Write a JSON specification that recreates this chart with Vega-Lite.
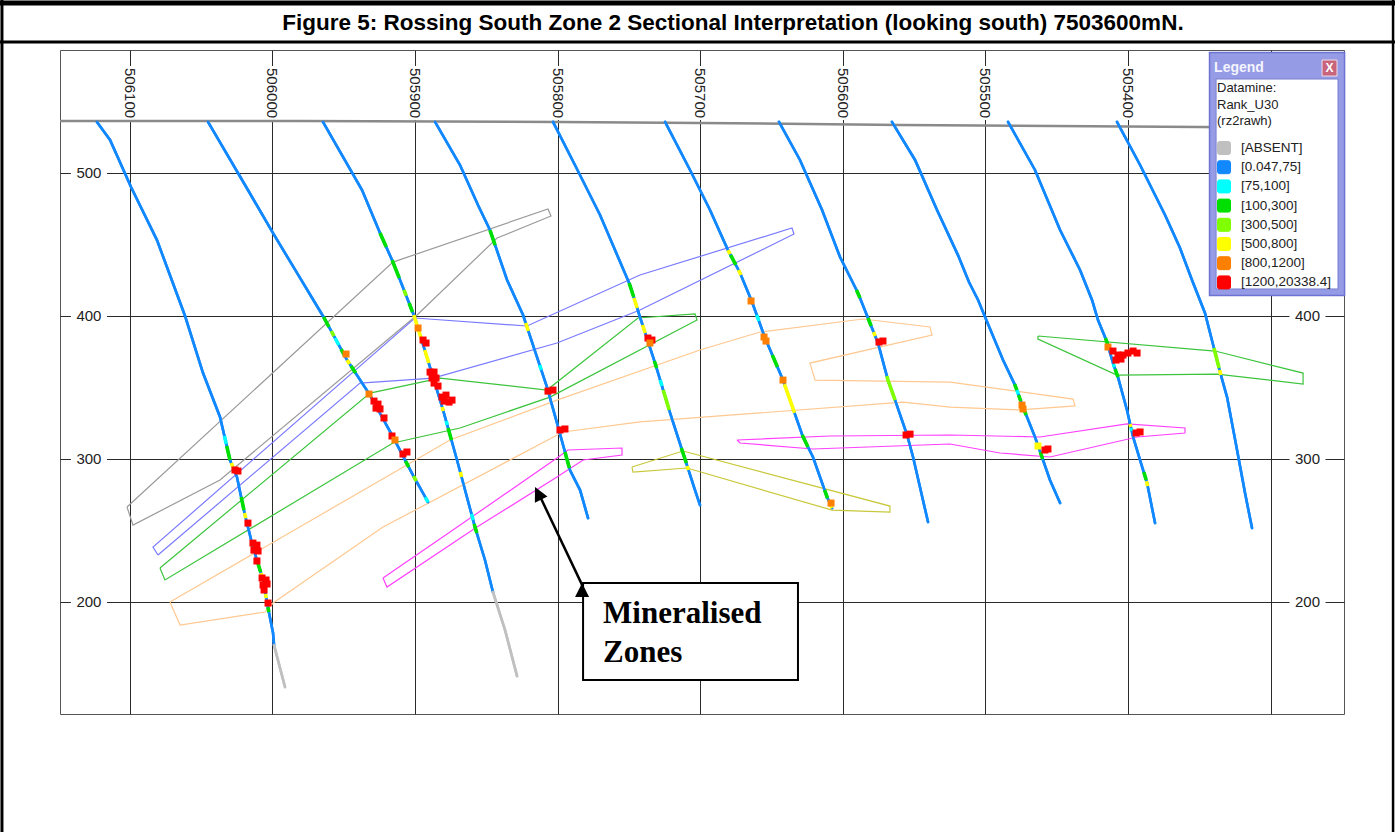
{
"$schema":"https://vega.github.io/schema/vega-lite/v6.json",
"width":1284,"height":664,
"autosize":{"type":"none"},
"padding":{"left":60,"top":50,"right":51,"bottom":118},
"background":"white",
"config":{"view":{"stroke":"#555","strokeWidth":1},
"axis":{"grid":true,"gridColor":"#2a2a2a","gridOpacity":1,"gridWidth":1,"labels":false,"ticks":false,"domain":false,"title":null}},
"datasets":{
"xlab":[{"e":506100,"z":555.9,"t":"506100"},{"e":506000,"z":555.9,"t":"506000"},{"e":505900,"z":555.9,"t":"505900"},{"e":505800,"z":555.9,"t":"505800"},{"e":505700,"z":555.9,"t":"505700"},{"e":505600,"z":555.9,"t":"505600"},{"e":505500,"z":555.9,"t":"505500"},{"e":505400,"z":555.9,"t":"505400"}],
"ylab":[{"e":506128.7,"z":500,"t":"500"},{"e":506128.7,"z":400,"t":"400"},{"e":506128.7,"z":300,"t":"300"},{"e":506128.7,"z":200,"t":"200"},{"e":505274.2,"z":400,"t":"400"},{"e":505274.2,"z":300,"t":"300"},{"e":505274.2,"z":200,"t":"200"}],
"topo":[{"e":506149,"z":536.4,"s":1},{"e":505980.7,"z":536.4,"s":2},{"e":505798.4,"z":535.7,"s":3},{"e":505700.2,"z":535.0,"s":4},{"e":505559.9,"z":533.6,"s":5},{"e":505349.6,"z":532.2,"s":6},{"e":505248.6,"z":531.5,"s":7}],
"zones":[
{"zone":"Z1","e":506102.0,"z":266.4,"s":1},{"zone":"Z1","e":505915.5,"z":437.7,"s":2},{"zone":"Z1","e":505806.8,"z":474.8,"s":3},{"zone":"Z1","e":505804.7,"z":469.9,"s":4},{"zone":"Z1","e":505842.5,"z":454.5,"s":5},{"zone":"Z1","e":505898.6,"z":400.7,"s":6},{"zone":"Z1","e":506036.8,"z":285.3,"s":7},{"zone":"Z1","e":506097.8,"z":253.8,"s":8},{"zone":"Z1","e":506102.0,"z":266.4,"s":9},
{"zone":"Z2","e":506080.3,"z":232.9,"s":1},{"zone":"Z2","e":505938.6,"z":353.1,"s":2},{"zone":"Z2","e":505887.4,"z":356.6,"s":3},{"zone":"Z2","e":505800.5,"z":381.1,"s":4},{"zone":"Z2","e":505742.3,"z":404.2,"s":5},{"zone":"Z2","e":505634.3,"z":457.3,"s":6},{"zone":"Z2","e":505635.7,"z":461.5,"s":7},{"zone":"Z2","e":505742.3,"z":428.7,"s":8},{"zone":"Z2","e":505821.5,"z":393.0,"s":9},{"zone":"Z2","e":505900.1,"z":398.6,"s":10},{"zone":"Z2","e":506083.8,"z":238.4,"s":11},{"zone":"Z2","e":506080.3,"z":232.9,"s":12},
{"zone":"Z3","e":506078.9,"z":223.8,"s":1},{"zone":"Z3","e":505931.6,"z":346.1,"s":2},{"zone":"Z3","e":505882.5,"z":356.6,"s":3},{"zone":"Z3","e":505807.5,"z":348.2,"s":4},{"zone":"Z3","e":505743.7,"z":398.6,"s":5},{"zone":"Z3","e":505703.7,"z":401.4,"s":6},{"zone":"Z3","e":505702.3,"z":397.2,"s":7},{"zone":"Z3","e":505805.4,"z":343.3,"s":8},{"zone":"Z3","e":505868.5,"z":321.7,"s":9},{"zone":"Z3","e":505915.5,"z":311.2,"s":10},{"zone":"Z3","e":506075.4,"z":215.4,"s":11},{"zone":"Z3","e":506078.9,"z":223.8,"s":12},
{"zone":"Z4","e":506071.9,"z":200.0,"s":1},{"zone":"Z4","e":505875.5,"z":313.3,"s":2},{"zone":"Z4","e":505800.5,"z":341.2,"s":3},{"zone":"Z4","e":505700.2,"z":376.2,"s":4},{"zone":"Z4","e":505658.1,"z":388.8,"s":5},{"zone":"Z4","e":505585.9,"z":397.9,"s":6},{"zone":"Z4","e":505538.9,"z":392.3,"s":7},{"zone":"Z4","e":505537.5,"z":386.7,"s":8},{"zone":"Z4","e":505623.1,"z":367.1,"s":9},{"zone":"Z4","e":505619.5,"z":355.2,"s":10},{"zone":"Z4","e":505524.9,"z":353.8,"s":11},{"zone":"Z4","e":505438.6,"z":341.9,"s":12},{"zone":"Z4","e":505437.2,"z":337.1,"s":13},{"zone":"Z4","e":505475.8,"z":334.3,"s":14},{"zone":"Z4","e":505524.9,"z":336.3,"s":15},{"zone":"Z4","e":505557.8,"z":339.8,"s":16},{"zone":"Z4","e":505677.1,"z":330.8,"s":17},{"zone":"Z4","e":505742.3,"z":325.9,"s":18},{"zone":"Z4","e":505796.3,"z":318.9,"s":19},{"zone":"Z4","e":505922.5,"z":252.4,"s":20},{"zone":"Z4","e":505999.6,"z":199.3,"s":21},{"zone":"Z4","e":506005.2,"z":193.0,"s":22},{"zone":"Z4","e":506064.8,"z":183.9,"s":23},{"zone":"Z4","e":506071.9,"z":200.0,"s":24},
{"zone":"Z5","e":505922.5,"z":216.8,"s":1},{"zone":"Z5","e":505875.5,"z":248.9,"s":2},{"zone":"Z5","e":505800.5,"z":300.7,"s":3},{"zone":"Z5","e":505792.8,"z":306.3,"s":4},{"zone":"Z5","e":505754.9,"z":307.7,"s":5},{"zone":"Z5","e":505754.9,"z":302.8,"s":6},{"zone":"Z5","e":505782.2,"z":299.3,"s":7},{"zone":"Z5","e":505800.5,"z":287.4,"s":8},{"zone":"Z5","e":505856.6,"z":252.4,"s":9},{"zone":"Z5","e":505919.7,"z":210.5,"s":10},{"zone":"Z5","e":505922.5,"z":216.8,"s":11},
{"zone":"Z6","e":505674.2,"z":313.3,"s":1},{"zone":"Z6","e":505609.0,"z":316.1,"s":2},{"zone":"Z6","e":505524.9,"z":316.8,"s":3},{"zone":"Z6","e":505461.8,"z":315.4,"s":4},{"zone":"Z6","e":505400.8,"z":324.5,"s":5},{"zone":"Z6","e":505360.1,"z":321.7,"s":6},{"zone":"Z6","e":505360.1,"z":318.2,"s":7},{"zone":"Z6","e":505393.7,"z":315.4,"s":8},{"zone":"Z6","e":505454.8,"z":301.4,"s":9},{"zone":"Z6","e":505489.8,"z":304.2,"s":10},{"zone":"Z6","e":505524.9,"z":310.5,"s":11},{"zone":"Z6","e":505621.0,"z":307.0,"s":12},{"zone":"Z6","e":505672.1,"z":311.2,"s":13},{"zone":"Z6","e":505674.2,"z":313.3,"s":14},
{"zone":"Z7","e":505747.9,"z":294.4,"s":1},{"zone":"Z7","e":505712.1,"z":305.6,"s":2},{"zone":"Z7","e":505567.0,"z":267.1,"s":3},{"zone":"Z7","e":505567.0,"z":262.9,"s":4},{"zone":"Z7","e":505607.6,"z":264.3,"s":5},{"zone":"Z7","e":505709.3,"z":293.7,"s":6},{"zone":"Z7","e":505747.2,"z":290.9,"s":7},{"zone":"Z7","e":505747.9,"z":294.4,"s":8},
{"zone":"Z8","e":505463.2,"z":386.0,"s":1},{"zone":"Z8","e":505339.0,"z":375.5,"s":2},{"zone":"Z8","e":505277.3,"z":360.1,"s":3},{"zone":"Z8","e":505277.3,"z":352.4,"s":4},{"zone":"Z8","e":505337.6,"z":359.4,"s":5},{"zone":"Z8","e":505407.8,"z":358.7,"s":6},{"zone":"Z8","e":505463.2,"z":383.9,"s":7},{"zone":"Z8","e":505463.2,"z":386.0,"s":8}
],
"holes":[
{"h":"H1","g":"[0.047,75]","e":506123.1,"z":535.7,"s":1},{"h":"H1","g":"[0.047,75]","e":506113.9,"z":523.1,"s":2},{"h":"H1","g":"[0.047,75]","e":506099.2,"z":490.2,"s":3},{"h":"H1","g":"[0.047,75]","e":506081.0,"z":453.1,"s":4},{"h":"H1","g":"[0.047,75]","e":506061.3,"z":400.0,"s":5},{"h":"H1","g":"[0.047,75]","e":506048.7,"z":360.1,"s":6},{"h":"H1","g":"[0.047,75]","e":506036.8,"z":329.4,"s":7},{"h":"H1","g":"[0.047,75]","e":506029.8,"z":299.3,"s":8},{"h":"H1","g":"[0.047,75]","e":506024.9,"z":287.4,"s":9},{"h":"H1","g":"[0.047,75]","e":506019.3,"z":260.8,"s":10},{"h":"H1","g":"[0.047,75]","e":506013.7,"z":238.4,"s":11},{"h":"H1","g":"[0.047,75]","e":506006.6,"z":215.4,"s":12},{"h":"H1","g":"[0.047,75]","e":506003.8,"z":199.3,"s":13},{"h":"H1","g":"[0.047,75]","e":505999.6,"z":178.3,"s":14},{"h":"H1","g":"[0.047,75]","e":505998.9,"z":169.9,"s":15},
{"h":"H1g","g":"[ABSENT]","e":505998.9,"z":169.9,"s":1},{"h":"H1g","g":"[ABSENT]","e":505994.7,"z":153.8,"s":2},{"h":"H1g","g":"[ABSENT]","e":505991.2,"z":140.5,"s":3},
{"h":"H2","g":"[0.047,75]","e":506045.2,"z":535.7,"s":1},{"h":"H2","g":"[0.047,75]","e":506017.2,"z":488.1,"s":2},{"h":"H2","g":"[0.047,75]","e":505999.6,"z":458.0,"s":3},{"h":"H2","g":"[0.047,75]","e":505982.8,"z":430.1,"s":4},{"h":"H2","g":"[0.047,75]","e":505964.6,"z":400.0,"s":5},{"h":"H2","g":"[0.047,75]","e":505947.7,"z":369.2,"s":6},{"h":"H2","g":"[0.047,75]","e":505931.6,"z":344.7,"s":7},{"h":"H2","g":"[0.047,75]","e":505915.5,"z":315.4,"s":8},{"h":"H2","g":"[0.047,75]","e":505901.5,"z":288.8,"s":9},{"h":"H2","g":"[0.047,75]","e":505890.9,"z":269.9,"s":10},
{"h":"H3","g":"[0.047,75]","e":505964.6,"z":535.7,"s":1},{"h":"H3","g":"[0.047,75]","e":505937.2,"z":488.1,"s":2},{"h":"H3","g":"[0.047,75]","e":505924.6,"z":458.0,"s":3},{"h":"H3","g":"[0.047,75]","e":505915.5,"z":437.7,"s":4},{"h":"H3","g":"[0.047,75]","e":505900.1,"z":398.6,"s":5},{"h":"H3","g":"[0.047,75]","e":505887.4,"z":357.3,"s":6},{"h":"H3","g":"[0.047,75]","e":505880.4,"z":334.3,"s":7},{"h":"H3","g":"[0.047,75]","e":505870.6,"z":299.3,"s":8},{"h":"H3","g":"[0.047,75]","e":505858.0,"z":252.4,"s":9},{"h":"H3","g":"[0.047,75]","e":505851.0,"z":229.4,"s":10},{"h":"H3","g":"[0.047,75]","e":505845.4,"z":207.0,"s":11},
{"h":"H3g","g":"[ABSENT]","e":505845.4,"z":207.0,"s":1},{"h":"H3g","g":"[ABSENT]","e":505836.9,"z":180.4,"s":2},{"h":"H3g","g":"[ABSENT]","e":505828.5,"z":148.2,"s":3},
{"h":"H4","g":"[0.047,75]","e":505886.0,"z":535.7,"s":1},{"h":"H4","g":"[0.047,75]","e":505868.5,"z":505.6,"s":2},{"h":"H4","g":"[0.047,75]","e":505855.9,"z":477.6,"s":3},{"h":"H4","g":"[0.047,75]","e":505847.5,"z":460.1,"s":4},{"h":"H4","g":"[0.047,75]","e":505835.5,"z":425.2,"s":5},{"h":"H4","g":"[0.047,75]","e":505824.3,"z":400.7,"s":6},{"h":"H4","g":"[0.047,75]","e":505814.5,"z":371.3,"s":7},{"h":"H4","g":"[0.047,75]","e":505807.5,"z":350.3,"s":8},{"h":"H4","g":"[0.047,75]","e":505800.5,"z":325.2,"s":9},{"h":"H4","g":"[0.047,75]","e":505791.4,"z":292.3,"s":10},{"h":"H4","g":"[0.047,75]","e":505784.3,"z":278.3,"s":11},{"h":"H4","g":"[0.047,75]","e":505778.7,"z":258.7,"s":12},
{"h":"H5","g":"[0.047,75]","e":505803.3,"z":535.7,"s":1},{"h":"H5","g":"[0.047,75]","e":505787.9,"z":505.6,"s":2},{"h":"H5","g":"[0.047,75]","e":505770.3,"z":470.6,"s":3},{"h":"H5","g":"[0.047,75]","e":505749.3,"z":421.7,"s":4},{"h":"H5","g":"[0.047,75]","e":505742.3,"z":399.3,"s":5},{"h":"H5","g":"[0.047,75]","e":505731.7,"z":367.1,"s":6},{"h":"H5","g":"[0.047,75]","e":505721.2,"z":332.2,"s":7},{"h":"H5","g":"[0.047,75]","e":505712.8,"z":306.3,"s":8},{"h":"H5","g":"[0.047,75]","e":505703.7,"z":278.3,"s":9},{"h":"H5","g":"[0.047,75]","e":505700.2,"z":267.8,"s":10},
{"h":"H6","g":"[0.047,75]","e":505724.7,"z":535.7,"s":1},{"h":"H6","g":"[0.047,75]","e":505707.2,"z":502.1,"s":2},{"h":"H6","g":"[0.047,75]","e":505693.2,"z":474.1,"s":3},{"h":"H6","g":"[0.047,75]","e":505680.6,"z":446.1,"s":4},{"h":"H6","g":"[0.047,75]","e":505672.1,"z":430.1,"s":5},{"h":"H6","g":"[0.047,75]","e":505663.7,"z":409.8,"s":6},{"h":"H6","g":"[0.047,75]","e":505654.6,"z":384.6,"s":7},{"h":"H6","g":"[0.047,75]","e":505642.0,"z":355.2,"s":8},{"h":"H6","g":"[0.047,75]","e":505628.0,"z":315.4,"s":9},{"h":"H6","g":"[0.047,75]","e":505621.0,"z":301.4,"s":10},{"h":"H6","g":"[0.047,75]","e":505611.1,"z":273.4,"s":11},{"h":"H6","g":"[0.047,75]","e":505607.6,"z":265.7,"s":12},
{"h":"H7","g":"[0.047,75]","e":505644.8,"z":535.7,"s":1},{"h":"H7","g":"[0.047,75]","e":505630.1,"z":509.1,"s":2},{"h":"H7","g":"[0.047,75]","e":505614.6,"z":474.1,"s":3},{"h":"H7","g":"[0.047,75]","e":505602.0,"z":441.2,"s":4},{"h":"H7","g":"[0.047,75]","e":505589.4,"z":416.1,"s":5},{"h":"H7","g":"[0.047,75]","e":505582.4,"z":398.6,"s":6},{"h":"H7","g":"[0.047,75]","e":505575.4,"z":381.1,"s":7},{"h":"H7","g":"[0.047,75]","e":505568.4,"z":355.2,"s":8},{"h":"H7","g":"[0.047,75]","e":505563.4,"z":341.2,"s":9},{"h":"H7","g":"[0.047,75]","e":505555.0,"z":316.8,"s":10},{"h":"H7","g":"[0.047,75]","e":505550.8,"z":301.4,"s":11},{"h":"H7","g":"[0.047,75]","e":505540.3,"z":255.9,"s":12},
{"h":"H8","g":"[0.047,75]","e":505565.6,"z":535.7,"s":1},{"h":"H8","g":"[0.047,75]","e":505549.4,"z":509.1,"s":2},{"h":"H8","g":"[0.047,75]","e":505534.0,"z":474.1,"s":3},{"h":"H8","g":"[0.047,75]","e":505519.3,"z":442.6,"s":4},{"h":"H8","g":"[0.047,75]","e":505511.6,"z":423.8,"s":5},{"h":"H8","g":"[0.047,75]","e":505505.2,"z":411.2,"s":6},{"h":"H8","g":"[0.047,75]","e":505500.3,"z":399.3,"s":7},{"h":"H8","g":"[0.047,75]","e":505487.7,"z":369.2,"s":8},{"h":"H8","g":"[0.047,75]","e":505479.3,"z":351.7,"s":9},{"h":"H8","g":"[0.047,75]","e":505473.7,"z":336.3,"s":10},{"h":"H8","g":"[0.047,75]","e":505465.3,"z":315.4,"s":11},{"h":"H8","g":"[0.047,75]","e":505460.4,"z":301.4,"s":12},{"h":"H8","g":"[0.047,75]","e":505454.8,"z":285.3,"s":13},{"h":"H8","g":"[0.047,75]","e":505447.7,"z":269.2,"s":14},
{"h":"H9","g":"[0.047,75]","e":505484.2,"z":535.7,"s":1},{"h":"H9","g":"[0.047,75]","e":505465.3,"z":502.1,"s":2},{"h":"H9","g":"[0.047,75]","e":505447.7,"z":460.1,"s":3},{"h":"H9","g":"[0.047,75]","e":505433.7,"z":432.2,"s":4},{"h":"H9","g":"[0.047,75]","e":505425.3,"z":411.2,"s":5},{"h":"H9","g":"[0.047,75]","e":505421.1,"z":397.2,"s":6},{"h":"H9","g":"[0.047,75]","e":505414.8,"z":381.8,"s":7},{"h":"H9","g":"[0.047,75]","e":505410.6,"z":367.1,"s":8},{"h":"H9","g":"[0.047,75]","e":505407.1,"z":357.3,"s":9},{"h":"H9","g":"[0.047,75]","e":505400.8,"z":334.3,"s":10},{"h":"H9","g":"[0.047,75]","e":505396.5,"z":315.4,"s":11},{"h":"H9","g":"[0.047,75]","e":505391.6,"z":299.3,"s":12},{"h":"H9","g":"[0.047,75]","e":505386.7,"z":283.2,"s":13},{"h":"H9","g":"[0.047,75]","e":505381.1,"z":255.2,"s":14},
{"h":"H10","g":"[0.047,75]","e":505407.8,"z":535.7,"s":1},{"h":"H10","g":"[0.047,75]","e":505391.6,"z":505.6,"s":2},{"h":"H10","g":"[0.047,75]","e":505374.1,"z":470.6,"s":3},{"h":"H10","g":"[0.047,75]","e":505363.6,"z":447.5,"s":4},{"h":"H10","g":"[0.047,75]","e":505355.2,"z":425.2,"s":5},{"h":"H10","g":"[0.047,75]","e":505346.1,"z":402.1,"s":6},{"h":"H10","g":"[0.047,75]","e":505339.1,"z":374.8,"s":7},{"h":"H10","g":"[0.047,75]","e":505335.5,"z":360.8,"s":8},{"h":"H10","g":"[0.047,75]","e":505330.6,"z":343.3,"s":9},{"h":"H10","g":"[0.047,75]","e":505323.6,"z":306.3,"s":10},{"h":"H10","g":"[0.047,75]","e":505318.0,"z":276.2,"s":11},{"h":"H10","g":"[0.047,75]","e":505313.1,"z":251.7,"s":12}
],
"intervals":[
{"i":1,"g":"[75,100]","e":506033.7,"z":316.1,"s":1},{"i":1,"g":"[75,100]","e":506032.4,"z":310.5,"s":2},
{"i":2,"g":"[100,300]","e":506032.1,"z":309.1,"s":1},{"i":2,"g":"[100,300]","e":506029.8,"z":299.3,"s":2},
{"i":3,"g":"[500,800]","e":506028.9,"z":297.2,"s":1},{"i":3,"g":"[500,800]","e":506027.8,"z":294.4,"s":2},
{"i":4,"g":"[100,300]","e":506021.95,"z":273.4,"s":1},{"i":4,"g":"[100,300]","e":506020.0,"z":264.3,"s":2},
{"i":5,"g":"[500,800]","e":506019.6,"z":262.2,"s":1},{"i":5,"g":"[500,800]","e":506018.7,"z":258.7,"s":2},
{"i":6,"g":"[100,300]","e":506010.3,"z":227.3,"s":1},{"i":6,"g":"[100,300]","e":506008.3,"z":221.0,"s":2},
{"i":7,"g":"[500,800]","e":506008.1,"z":220.3,"s":1},{"i":7,"g":"[500,800]","e":506007.2,"z":217.4,"s":2},
{"i":8,"g":"[500,800]","e":506004.9,"z":205.6,"s":1},{"i":8,"g":"[500,800]","e":506004.4,"z":202.8,"s":2},
{"i":9,"g":"[100,300]","e":506003.2,"z":196.5,"s":1},{"i":9,"g":"[100,300]","e":506002.5,"z":193.0,"s":2},
{"i":10,"g":"[100,300]","e":505964.2,"z":399.3,"s":1},{"i":10,"g":"[100,300]","e":505960.4,"z":392.3,"s":2},
{"i":11,"g":"[300,500]","e":505958.8,"z":389.5,"s":1},{"i":11,"g":"[300,500]","e":505956.9,"z":386.0,"s":2},
{"i":12,"g":"[75,100]","e":505956.1,"z":384.6,"s":1},{"i":12,"g":"[75,100]","e":505953.5,"z":379.7,"s":2},
{"i":13,"g":"[100,300]","e":505951.9,"z":376.9,"s":1},{"i":13,"g":"[100,300]","e":505949.6,"z":372.7,"s":2},
{"i":14,"g":"[500,800]","e":505947.7,"z":369.2,"s":1},{"i":14,"g":"[500,800]","e":505945.9,"z":366.4,"s":2},
{"i":15,"g":"[100,300]","e":505944.9,"z":365.0,"s":1},{"i":15,"g":"[100,300]","e":505941.7,"z":360.1,"s":2},
{"i":16,"g":"[100,300]","e":505906.7,"z":298.6,"s":1},{"i":16,"g":"[100,300]","e":505904.4,"z":294.4,"s":2},
{"i":17,"g":"[300,500]","e":505901.1,"z":288.1,"s":1},{"i":17,"g":"[300,500]","e":505899.1,"z":284.6,"s":2},
{"i":18,"g":"[75,100]","e":505892.9,"z":273.4,"s":1},{"i":18,"g":"[75,100]","e":505890.9,"z":269.9,"s":2},
{"i":19,"g":"[100,300]","e":505924.6,"z":458.0,"s":1},{"i":19,"g":"[100,300]","e":505920.2,"z":448.2,"s":2},
{"i":20,"g":"[100,300]","e":505916.1,"z":439.1,"s":1},{"i":20,"g":"[100,300]","e":505911.1,"z":426.6,"s":2},
{"i":21,"g":"[300,500]","e":505907.8,"z":418.2,"s":1},{"i":21,"g":"[300,500]","e":505906.2,"z":414.0,"s":2},
{"i":22,"g":"[100,300]","e":505904.2,"z":409.1,"s":1},{"i":22,"g":"[100,300]","e":505901.8,"z":402.8,"s":2},
{"i":23,"g":"[500,800]","e":505900.9,"z":400.7,"s":1},{"i":23,"g":"[500,800]","e":505895.4,"z":383.2,"s":2},
{"i":24,"g":"[500,800]","e":505893.2,"z":376.2,"s":1},{"i":24,"g":"[500,800]","e":505890.4,"z":367.1,"s":2},
{"i":25,"g":"[500,800]","e":505881.0,"z":336.3,"s":1},{"i":25,"g":"[500,800]","e":505880.2,"z":333.6,"s":2},
{"i":26,"g":"[75,100]","e":505878.2,"z":326.6,"s":1},{"i":26,"g":"[75,100]","e":505877.5,"z":323.8,"s":2},
{"i":27,"g":"[100,300]","e":505876.9,"z":321.7,"s":1},{"i":27,"g":"[100,300]","e":505874.5,"z":313.3,"s":2},
{"i":28,"g":"[500,800]","e":505868.3,"z":290.9,"s":1},{"i":28,"g":"[500,800]","e":505867.4,"z":287.4,"s":2},
{"i":29,"g":"[75,100]","e":505860.4,"z":261.5,"s":1},{"i":29,"g":"[75,100]","e":505859.3,"z":257.3,"s":2},
{"i":30,"g":"[100,300]","e":505858.6,"z":254.5,"s":1},{"i":30,"g":"[100,300]","e":505856.7,"z":248.2,"s":2},
{"i":31,"g":"[100,300]","e":505847.5,"z":460.1,"s":1},{"i":31,"g":"[100,300]","e":505843.9,"z":449.6,"s":2},
{"i":32,"g":"[500,800]","e":505822.4,"z":395.1,"s":1},{"i":32,"g":"[500,800]","e":505820.6,"z":389.5,"s":2},
{"i":33,"g":"[75,100]","e":505812.6,"z":365.7,"s":1},{"i":33,"g":"[75,100]","e":505811.5,"z":362.2,"s":2},
{"i":34,"g":"[100,300]","e":505794.9,"z":304.9,"s":1},{"i":34,"g":"[100,300]","e":505791.8,"z":293.7,"s":2},
{"i":35,"g":"[100,300]","e":505749.9,"z":423.1,"s":1},{"i":35,"g":"[100,300]","e":505746.7,"z":413.3,"s":2},
{"i":36,"g":"[500,800]","e":505746.5,"z":412.6,"s":1},{"i":36,"g":"[500,800]","e":505744.3,"z":405.6,"s":2},
{"i":37,"g":"[500,800]","e":505740.5,"z":393.7,"s":1},{"i":37,"g":"[500,800]","e":505738.6,"z":388.1,"s":2},
{"i":38,"g":"[100,300]","e":505732.2,"z":368.5,"s":1},{"i":38,"g":"[100,300]","e":505730.6,"z":363.6,"s":2},
{"i":39,"g":"[75,100]","e":505728.1,"z":355.2,"s":1},{"i":39,"g":"[75,100]","e":505726.9,"z":351.0,"s":2},
{"i":40,"g":"[300,500]","e":505726.0,"z":348.2,"s":1},{"i":40,"g":"[300,500]","e":505721.8,"z":334.3,"s":2},
{"i":41,"g":"[100,300]","e":505713.3,"z":307.7,"s":1},{"i":41,"g":"[100,300]","e":505709.8,"z":297.2,"s":2},
{"i":42,"g":"[500,800]","e":505709.2,"z":295.1,"s":1},{"i":42,"g":"[500,800]","e":505708.3,"z":292.3,"s":2},
{"i":43,"g":"[500,800]","e":505680.6,"z":446.1,"s":1},{"i":43,"g":"[500,800]","e":505679.1,"z":443.3,"s":2},
{"i":44,"g":"[100,300]","e":505678.7,"z":442.6,"s":1},{"i":44,"g":"[100,300]","e":505675.1,"z":435.7,"s":2},
{"i":45,"g":"[500,800]","e":505673.2,"z":432.2,"s":1},{"i":45,"g":"[500,800]","e":505671.5,"z":428.7,"s":2},
{"i":46,"g":"[75,100]","e":505660.4,"z":400.7,"s":1},{"i":46,"g":"[75,100]","e":505658.9,"z":396.5,"s":2},
{"i":47,"g":"[100,300]","e":505649.5,"z":372.7,"s":1},{"i":47,"g":"[100,300]","e":505645.9,"z":364.3,"s":2},
{"i":48,"g":"[500,800]","e":505641.0,"z":352.4,"s":1},{"i":48,"g":"[500,800]","e":505633.9,"z":332.2,"s":2},
{"i":49,"g":"[100,300]","e":505628.5,"z":316.8,"s":1},{"i":49,"g":"[100,300]","e":505624.5,"z":308.4,"s":2},
{"i":50,"g":"[100,300]","e":505612.8,"z":278.3,"s":1},{"i":50,"g":"[100,300]","e":505610.8,"z":272.7,"s":2},
{"i":51,"g":"[500,800]","e":505608.9,"z":268.5,"s":1},{"i":51,"g":"[500,800]","e":505607.6,"z":265.7,"s":2},
{"i":52,"g":"[100,300]","e":505590.5,"z":418.2,"s":1},{"i":52,"g":"[100,300]","e":505588.0,"z":412.6,"s":2},
{"i":53,"g":"[100,300]","e":505582.4,"z":398.6,"s":1},{"i":53,"g":"[100,300]","e":505580.2,"z":393.0,"s":2},
{"i":54,"g":"[500,800]","e":505578.5,"z":388.8,"s":1},{"i":54,"g":"[500,800]","e":505577.4,"z":386.0,"s":2},
{"i":55,"g":"[300,500]","e":505569.2,"z":358.0,"s":1},{"i":55,"g":"[300,500]","e":505568.4,"z":355.2,"s":2},{"i":55,"g":"[300,500]","e":505563.4,"z":341.2,"s":3},
{"i":56,"g":"[100,300]","e":505479.6,"z":352.4,"s":1},{"i":56,"g":"[100,300]","e":505478.0,"z":348.2,"s":2},
{"i":57,"g":"[75,100]","e":505478.0,"z":348.2,"s":1},{"i":57,"g":"[75,100]","e":505477.0,"z":345.4,"s":2},
{"i":58,"g":"[100,300]","e":505476.8,"z":344.7,"s":1},{"i":58,"g":"[100,300]","e":505475.2,"z":340.5,"s":2},
{"i":59,"g":"[100,300]","e":505472.9,"z":334.3,"s":1},{"i":59,"g":"[100,300]","e":505471.5,"z":330.8,"s":2},
{"i":60,"g":"[100,300]","e":505461.6,"z":304.9,"s":1},{"i":60,"g":"[100,300]","e":505459.9,"z":300.0,"s":2},
{"i":61,"g":"[100,300]","e":505415.9,"z":384.6,"s":1},{"i":61,"g":"[100,300]","e":505414.4,"z":380.4,"s":2},
{"i":62,"g":"[75,100]","e":505410.35,"z":366.4,"s":1},{"i":62,"g":"[75,100]","e":505409.6,"z":364.3,"s":2},
{"i":63,"g":"[100,300]","e":505409.1,"z":362.9,"s":1},{"i":63,"g":"[100,300]","e":505407.1,"z":357.3,"s":2},
{"i":64,"g":"[500,800]","e":505398.6,"z":324.5,"s":1},{"i":64,"g":"[500,800]","e":505398.1,"z":322.4,"s":2},
{"i":65,"g":"[75,100]","e":505397.9,"z":321.7,"s":1},{"i":65,"g":"[75,100]","e":505397.5,"z":319.6,"s":2},
{"i":66,"g":"[100,300]","e":505389.0,"z":290.9,"s":1},{"i":66,"g":"[100,300]","e":505387.3,"z":285.3,"s":2},
{"i":67,"g":"[500,800]","e":505387.1,"z":284.6,"s":1},{"i":67,"g":"[500,800]","e":505386.3,"z":281.1,"s":2},
{"i":68,"g":"[300,500]","e":505339.8,"z":377.6,"s":1},{"i":68,"g":"[300,500]","e":505336.2,"z":363.6,"s":2},
{"i":69,"g":"[500,800]","e":505335.9,"z":362.2,"s":1},{"i":69,"g":"[500,800]","e":505334.9,"z":358.7,"s":2}
],
"blobs":[
{"g":"[1200,20338.4]","e":506026.3,"z":292.3},{"g":"[1200,20338.4]","e":506024.2,"z":291.6},{"g":"[1200,20338.4]","e":506017.2,"z":255.2},{"g":"[1200,20338.4]","e":506013.7,"z":241.2},{"g":"[1200,20338.4]","e":506010.9,"z":239.8},{"g":"[1200,20338.4]","e":506013.0,"z":236.3},{"g":"[1200,20338.4]","e":506010.1,"z":235.7},{"g":"[1200,20338.4]","e":506010.9,"z":228.7},{"g":"[1200,20338.4]","e":506007.3,"z":216.8},{"g":"[1200,20338.4]","e":506004.5,"z":215.4},{"g":"[1200,20338.4]","e":506006.6,"z":211.9},{"g":"[1200,20338.4]","e":506003.8,"z":212.6},{"g":"[1200,20338.4]","e":506005.9,"z":208.4},{"g":"[1200,20338.4]","e":506003.1,"z":199.3},
{"g":"[800,1200]","e":505948.4,"z":373.4},{"g":"[800,1200]","e":505932.3,"z":345.4},{"g":"[1200,20338.4]","e":505928.8,"z":340.5},{"g":"[1200,20338.4]","e":505926.0,"z":338.4},{"g":"[1200,20338.4]","e":505927.4,"z":335.6},{"g":"[1200,20338.4]","e":505924.6,"z":335.0},{"g":"[1200,20338.4]","e":505921.8,"z":328.7},{"g":"[1200,20338.4]","e":505916.2,"z":316.1},{"g":"[800,1200]","e":505914.1,"z":313.3},{"g":"[1200,20338.4]","e":505908.5,"z":303.5},{"g":"[1200,20338.4]","e":505905.7,"z":304.9},
{"g":"[800,1200]","e":505897.9,"z":391.6},{"g":"[1200,20338.4]","e":505894.4,"z":383.2},{"g":"[1200,20338.4]","e":505892.3,"z":381.1},{"g":"[1200,20338.4]","e":505889.5,"z":360.8},{"g":"[1200,20338.4]","e":505886.7,"z":360.8},{"g":"[1200,20338.4]","e":505888.1,"z":356.6},{"g":"[1200,20338.4]","e":505885.3,"z":356.6},{"g":"[1200,20338.4]","e":505886.7,"z":353.1},{"g":"[1200,20338.4]","e":505883.9,"z":351.0},{"g":"[1200,20338.4]","e":505881.1,"z":343.3},{"g":"[1200,20338.4]","e":505878.3,"z":344.7},{"g":"[1200,20338.4]","e":505879.7,"z":340.5},{"g":"[1200,20338.4]","e":505876.2,"z":339.8},{"g":"[1200,20338.4]","e":505874.1,"z":341.2},
{"g":"[1200,20338.4]","e":505806.8,"z":347.5},{"g":"[1200,20338.4]","e":505803.3,"z":348.2},{"g":"[1200,20338.4]","e":505798.4,"z":320.3},{"g":"[1200,20338.4]","e":505794.9,"z":321.0},
{"g":"[1200,20338.4]","e":505736.7,"z":384.6},{"g":"[1200,20338.4]","e":505733.9,"z":383.2},{"g":"[800,1200]","e":505735.3,"z":381.1},
{"g":"[800,1200]","e":505664.4,"z":410.5},{"g":"[800,1200]","e":505655.3,"z":385.3},{"g":"[800,1200]","e":505653.9,"z":382.5},{"g":"[800,1200]","e":505642.0,"z":355.2},{"g":"[800,1200]","e":505608.3,"z":269.2},
{"g":"[1200,20338.4]","e":505574.7,"z":381.8},{"g":"[1200,20338.4]","e":505571.9,"z":382.5},{"g":"[1200,20338.4]","e":505555.7,"z":316.8},{"g":"[1200,20338.4]","e":505552.9,"z":317.4},
{"g":"[800,1200]","e":505474.4,"z":337.7},{"g":"[800,1200]","e":505473.7,"z":335.0},{"g":"[500,800]","e":505463.2,"z":309.1},{"g":"[1200,20338.4]","e":505458.3,"z":306.3},{"g":"[1200,20338.4]","e":505456.2,"z":307.0},
{"g":"[800,1200]","e":505414.1,"z":378.3},{"g":"[1200,20338.4]","e":505410.6,"z":375.5},{"g":"[1200,20338.4]","e":505407.1,"z":372.7},{"g":"[1200,20338.4]","e":505403.6,"z":372.7},{"g":"[1200,20338.4]","e":505400.1,"z":374.1},{"g":"[1200,20338.4]","e":505396.5,"z":375.5},{"g":"[1200,20338.4]","e":505393.7,"z":374.1},{"g":"[1200,20338.4]","e":505408.5,"z":369.2},{"g":"[1200,20338.4]","e":505405.0,"z":369.9},{"g":"[1200,20338.4]","e":505394.4,"z":318.2},{"g":"[1200,20338.4]","e":505391.6,"z":318.9}
]
},
"layer":[
{"data":{"name":"holes"},"mark":{"type":"line","strokeWidth":2.6,"strokeCap":"round"},"encoding":{
"x":{"field":"e","type":"quantitative","scale":{"domain":[505248.6,506149],"reverse":true,"nice":false,"zero":false},"axis":{"values":[506100,506000,505900,505800,505700,505600,505500,505400,505300],"title":null}},
"y":{"field":"z","type":"quantitative","scale":{"domain":[121.7,586],"nice":false,"zero":false},"axis":{"values":[200,300,400,500],"title":null}},
"detail":{"field":"h"},"order":{"field":"s"},
"color":{"field":"g","type":"nominal","scale":{"domain":["[ABSENT]","[0.047,75]","[75,100]","[100,300]","[300,500]","[500,800]","[800,1200]","[1200,20338.4]"],"range":["#c0c0c0","#1288ff","#00ffff","#00e000","#80ff00","#ffff00","#ff8000","#ff0000"]},
"legend":{"orient":"none","legendX":1157,"legendY":32,"title":["Datamine:","Rank_U30","(rz2rawh)"],"titleFont":"Liberation Sans","titleFontSize":13,"titleFontWeight":"normal","titleColor":"#222","titleLineHeight":16.5,"titlePadding":13,"symbolType":"M-0.7,-1H0.7A0.3,0.3 0 0 1 1,-0.7V0.7A0.3,0.3 0 0 1 0.7,1H-0.7A0.3,0.3 0 0 1 -1,0.7V-0.7A0.3,0.3 0 0 1 -0.7,-1Z","symbolSize":169,"symbolStrokeColor":"#333","symbolStrokeWidth":1,"symbolOpacity":1,"labelFont":"Liberation Sans","labelFontSize":13.5,"labelColor":"#222","labelOffset":10,"rowPadding":1.2,"padding":0,
"encode":{"symbols":{"update":{"fill":{"scale":"color","field":"value"},"stroke":{"value":"#333"},"strokeWidth":{"value":1},"opacity":{"value":1}}}}}}}},
{"data":{"name":"xlab"},"mark":{"type":"point","shape":"M-0.3,-1H0.3V1H-0.3Z","size":2916,"filled":true,"fill":"white","strokeWidth":0,"opacity":1},"encoding":{"x":{"field":"e","type":"quantitative"},"y":{"field":"z","type":"quantitative"}}},
{"data":{"name":"ylab"},"mark":{"type":"point","shape":"M-1,-0.4H1V0.4H-1Z","size":1296,"filled":true,"fill":"white","strokeWidth":0,"opacity":1},"encoding":{"x":{"field":"e","type":"quantitative"},"y":{"field":"z","type":"quantitative"}}},
{"data":{"name":"xlab"},"mark":{"type":"text","angle":90,"align":"center","baseline":"middle","font":"Liberation Sans","fontSize":15,"color":"#222"},"encoding":{"x":{"field":"e","type":"quantitative"},"y":{"field":"z","type":"quantitative"},"text":{"field":"t"}}},
{"data":{"name":"ylab"},"mark":{"type":"text","align":"center","baseline":"middle","font":"Liberation Sans","fontSize":15,"color":"#222"},"encoding":{"x":{"field":"e","type":"quantitative"},"y":{"field":"z","type":"quantitative"},"text":{"field":"t"}}},
{"data":{"name":"topo"},"mark":{"type":"line","color":"#8a8a8a","strokeWidth":2.5},"encoding":{"x":{"field":"e","type":"quantitative"},"y":{"field":"z","type":"quantitative"},"order":{"field":"s"}}},
{"data":{"name":"zones"},"mark":{"type":"line","strokeWidth":1.2},"encoding":{"x":{"field":"e","type":"quantitative"},"y":{"field":"z","type":"quantitative"},"detail":{"field":"zone"},"order":{"field":"s"},"stroke":{"field":"zone","type":"nominal","scale":{"domain":["Z1","Z2","Z3","Z4","Z5","Z6","Z7","Z8"],"range":["#9a9a9a","#7a7aff","#3cc43c","#ffc890","#ff40ff","#ff40ff","#c8c83a","#3cc43c"]},"legend":null}}},
{"data":{"name":"holes"},"mark":{"type":"line","strokeWidth":2.6,"strokeCap":"round"},"encoding":{"x":{"field":"e","type":"quantitative"},"y":{"field":"z","type":"quantitative"},"detail":{"field":"h"},"order":{"field":"s"},"color":{"field":"g","type":"nominal"}}},
{"data":{"name":"intervals"},"mark":{"type":"line","strokeWidth":3.6,"strokeCap":"butt"},"encoding":{"x":{"field":"e","type":"quantitative"},"y":{"field":"z","type":"quantitative"},"detail":{"field":"i"},"order":{"field":"s"},"color":{"field":"g","type":"nominal"}}},
{"data":{"name":"blobs"},"mark":{"type":"point","shape":"square","filled":true,"size":49,"opacity":1,"strokeWidth":0},"encoding":{"x":{"field":"e","type":"quantitative"},"y":{"field":"z","type":"quantitative"},"color":{"field":"g","type":"nominal"}}},
{"data":{"values":[{"e":505782.9,"z":212.0,"e2":505814.5,"z2":278.3}]},"mark":{"type":"rule","color":"black","strokeWidth":2.5},"encoding":{"x":{"field":"e","type":"quantitative"},"y":{"field":"z","type":"quantitative"},"x2":{"field":"e2"},"y2":{"field":"z2"}}},
{"data":{"values":[{"e":505815.9,"z":280.4}]},"mark":{"type":"point","shape":"M0,0L0.7,1.4L-0.7,1.4Z","size":400,"filled":true,"color":"black","opacity":1,"strokeWidth":0,"angle":334},"encoding":{"x":{"field":"e","type":"quantitative"},"y":{"field":"z","type":"quantitative"}}},
{"data":{"values":[{"e":505782.2,"e2":505631.5,"z":213.3,"z2":145.4}]},"mark":{"type":"rect","fill":"white","stroke":"black","strokeWidth":2},"encoding":{"x":{"field":"e","type":"quantitative"},"x2":{"field":"e2"},"y":{"field":"z","type":"quantitative"},"y2":{"field":"z2"}}},
{"data":{"values":[{"e":505782.9,"z":213.3}]},"mark":{"type":"point","shape":"M0,0L0.7,1.4L-0.7,1.4Z","size":400,"filled":true,"color":"black","opacity":1,"strokeWidth":0},"encoding":{"x":{"field":"e","type":"quantitative"},"y":{"field":"z","type":"quantitative"}}},
{"data":{"values":[{"e":505768.2,"z":185.3,"t":["Mineralised","Zones"]}]},"mark":{"type":"text","align":"left","baseline":"alphabetic","font":"Liberation Serif","fontWeight":"bold","fontSize":31,"lineHeight":39,"color":"black"},"encoding":{"x":{"field":"e","type":"quantitative"},"y":{"field":"z","type":"quantitative"},"text":{"field":"t"}}},
{"data":{"values":[{"e":505342.9,"e2":505248.2,"z":584.3,"z2":414.3}]},"mark":{"type":"rect","fill":"#959be4","stroke":"#6d73d2","strokeWidth":1.5},"encoding":{"x":{"field":"e","type":"quantitative"},"x2":{"field":"e2"},"y":{"field":"z","type":"quantitative"},"y2":{"field":"z2"}}},
{"data":{"values":[{"e":505338.3,"e2":505252.8,"z":565.7,"z2":418.9}]},"mark":{"type":"rect","fill":"white","stroke":"#7a7fd0","strokeWidth":1},"encoding":{"x":{"field":"e","type":"quantitative"},"x2":{"field":"e2"},"y":{"field":"z","type":"quantitative"},"y2":{"field":"z2"}}},
{"data":{"values":[{"e":505339.7,"z":573.4,"t":"Legend"}]},"mark":{"type":"text","align":"left","baseline":"middle","font":"Liberation Sans","fontWeight":"bold","fontSize":14,"color":"#f4f4ff"},"encoding":{"x":{"field":"e","type":"quantitative"},"y":{"field":"z","type":"quantitative"},"text":{"field":"t"}}},
{"data":{"values":[{"e":505264.0,"e2":505253.5,"z":579.0,"z2":567.8}]},"mark":{"type":"rect","fill":"#c8647c","stroke":"#f0dce6","strokeWidth":1},"encoding":{"x":{"field":"e","type":"quantitative"},"x2":{"field":"e2"},"y":{"field":"z","type":"quantitative"},"y2":{"field":"z2"}}},
{"data":{"values":[{"e":505258.7,"z":573.4,"t":"X"}]},"mark":{"type":"text","align":"center","baseline":"middle","font":"Liberation Sans","fontWeight":"bold","fontSize":12,"color":"white"},"encoding":{"x":{"field":"e","type":"quantitative"},"y":{"field":"z","type":"quantitative"},"text":{"field":"t"}}},
{"data":{"values":[{"e":506191.1,"e2":505212.8,"z":618.9}]},"mark":{"type":"rule","color":"black","strokeWidth":5},"encoding":{"x":{"field":"e","type":"quantitative"},"x2":{"field":"e2"},"y":{"field":"z","type":"quantitative"}}},
{"data":{"values":[{"e":506191.1,"e2":505212.8,"z":591.6}]},"mark":{"type":"rule","color":"black","strokeWidth":3},"encoding":{"x":{"field":"e","type":"quantitative"},"x2":{"field":"e2"},"y":{"field":"z","type":"quantitative"}}},
{"data":{"values":[{"e":506189.7,"z":621.0,"z2":39.1}]},"mark":{"type":"rule","color":"black","strokeWidth":3},"encoding":{"x":{"field":"e","type":"quantitative"},"y":{"field":"z","type":"quantitative"},"y2":{"field":"z2"}}},
{"data":{"values":[{"e":505214.2,"z":621.0,"z2":39.1}]},"mark":{"type":"rule","color":"black","strokeWidth":2.5},"encoding":{"x":{"field":"e","type":"quantitative"},"y":{"field":"z","type":"quantitative"},"y2":{"field":"z2"}}},
{"data":{"values":[{"e":505677.1,"z":600.0,"t":"Figure 5: Rossing South Zone 2 Sectional Interpretation (looking south) 7503600mN."}]},"mark":{"type":"text","align":"center","baseline":"alphabetic","font":"Liberation Sans","fontWeight":"bold","fontSize":22.5,"color":"black"},"encoding":{"x":{"field":"e","type":"quantitative"},"y":{"field":"z","type":"quantitative"},"text":{"field":"t"}}}
]
}
